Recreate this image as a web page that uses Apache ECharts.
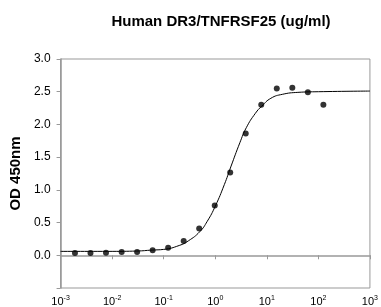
<!DOCTYPE html>
<html>
<head>
<meta charset="utf-8">
<script src="https://cdn.jsdelivr.net/npm/echarts@6/dist/echarts.min.js"></script>
<style>
  html, body { margin: 0; padding: 0; background: #fff; }
  #chart { width: 381px; height: 307px; }
</style>
</head>
<body>
<div id="chart"></div>
<script>
  // measured points (2-fold dilution series, ug/ml)
  const conc = [0.0019, 0.0038, 0.0076, 0.0153, 0.0305, 0.061, 0.122, 0.244, 0.488, 0.977,
                1.95, 3.9, 7.8, 15.6, 31.25, 62.5, 125];
  const od = [0.035, 0.035, 0.04, 0.05, 0.05, 0.076, 0.117, 0.218, 0.41, 0.76,
              1.264, 1.86, 2.30, 2.55, 2.56, 2.49, 2.30];

  // fitted curve
  const curveX = [0.001, 0.01, 0.03, 0.06, 0.1, 0.2, 0.3, 0.5, 0.7, 1, 1.5, 2, 3, 4, 6, 8, 12, 20, 40, 100, 1000];
  const curveY = [0.06, 0.06, 0.065, 0.08, 0.09, 0.15, 0.22, 0.36, 0.52, 0.75, 1.08, 1.35, 1.72, 1.95, 2.17, 2.28, 2.40, 2.46, 2.49, 2.50, 2.51];

  const yTicks = [0.0, 0.5, 1.0, 1.5, 2.0, 2.5, 3.0];

  let chart = echarts.init(document.getElementById('chart'));
  chart.setOption({
    animation: false,
    textStyle: { fontFamily: 'Liberation Sans, Arial, sans-serif' },
    title: {
      text: 'Human DR3/TNFRSF25 (ug/ml)',
      left: 216,
      textAlign: 'center',
      top: 9,
      textStyle: { fontSize: 15, fontWeight: 'bold', color: '#000' }
    },
    grid: {
      left: 59, right: 6, top: 59, bottom: 19,
      show: true,
      borderColor: '#999',
      borderWidth: 1
    },
    xAxis: {
      type: 'log',
      logBase: 10,
      min: 0.001,
      max: 1000,
      axisLine: { lineStyle: { color: '#999', width: 1.5 } },
      axisTick: { show: true, length: 4, lineStyle: { color: '#999' } },
      splitLine: { show: false },
      minorTick: { show: false },
      axisLabel: {
        margin: 7,
        color: '#000',
        formatter: function (v) {
          const e = Math.round(Math.log10(v));
          return '{b|10}{s|' + e + '}';
        },
        rich: {
          b: { fontSize: 11, color: '#000' },
          s: { fontSize: 7, color: '#000', verticalAlign: 'top', padding: [0, 0, 6, 0] }
        }
      }
    },
    yAxis: {
      type: 'value',
      min: -0.5,
      max: 3.0,
      interval: 0.5,
      name: 'OD 450nm',
      nameLocation: 'middle',
      nameGap: 37,
      nameTextStyle: { fontSize: 15, fontWeight: 'bold', color: '#000' },
      axisLine: { show: true, lineStyle: { color: '#999', width: 1.5 } },
      axisTick: { show: true, length: 4, lineStyle: { color: '#999' } },
      splitLine: { show: false },
      axisLabel: {
        margin: 10,
        fontSize: 12,
        color: '#000',
        formatter: function (v) {
          return yTicks.indexOf(v) >= 0 ? v.toFixed(1) : '';
        }
      }
    },
    series: [
      {
        type: 'line',
        data: curveX.map((x, i) => [x, curveY[i]]),
        smooth: true,
        showSymbol: false,
        lineStyle: { color: '#000', width: 1 }
      },
      {
        type: 'scatter',
        data: conc.map((x, i) => [x, od[i]]),
        symbolSize: 6,
        itemStyle: { color: '#000' }
      }
    ]
  });
</script>
</body>
</html>
